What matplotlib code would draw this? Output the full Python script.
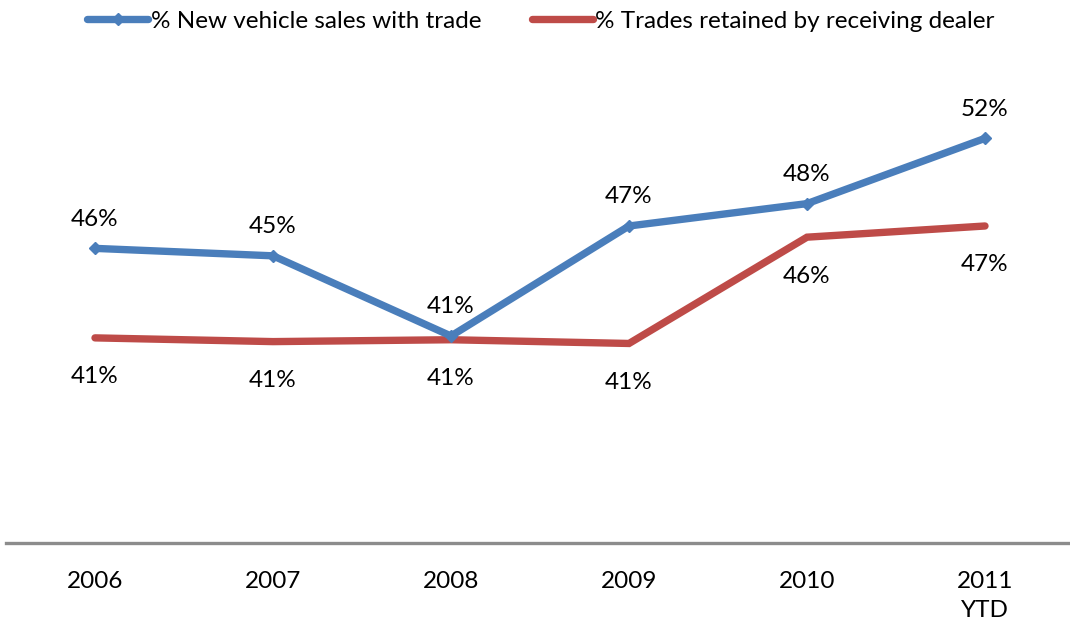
import matplotlib
matplotlib.use("Agg")
import matplotlib.pyplot as plt
from matplotlib.lines import Line2D

plt.rcParams['font.family'] = ['Lato', 'DejaVu Sans']

categories = ["2006", "2007", "2008", "2009", "2010", "2011\nYTD"]
sales_with_trade = [45.8, 45.4, 41.1, 47.0, 48.2, 51.7]
trades_retained = [41.0, 40.8, 40.9, 40.7, 46.4, 47.0]

blue = "#4A7EBB"
red = "#BE4B48"
fs = 17.5

fig = plt.figure(figsize=(10.70, 6.23), dpi=100)
ax = fig.add_axes([6 / 1070, 80 / 623, 1068 / 1070, 455 / 623])

x = list(range(len(categories)))
ax.plot(x, sales_with_trade, color=blue, lw=5.3, marker="D", ms=6,
        solid_joinstyle="miter", solid_capstyle="round", zorder=3)
ax.plot(x, trades_retained, color=red, lw=5.3,
        solid_joinstyle="miter", solid_capstyle="round", zorder=2)

for xi, v in zip(x, sales_with_trade):
    ax.annotate(f"{v:.0f}%", (xi, v), xytext=(0, 21), textcoords="offset points",
                ha="center", va="center", fontsize=fs, color="#000000")
for xi, v in zip(x, trades_retained):
    ax.annotate(f"{v:.0f}%", (xi, v), xytext=(0, -28), textcoords="offset points",
                ha="center", va="center", fontsize=fs, color="#000000")

ax.set_xlim(-0.5, 5.5)
ax.set_ylim(30, 54.4)
ax.set_xticks(x)
ax.set_xticklabels(categories, fontsize=fs, linespacing=1.5)
ax.tick_params(axis="x", length=0, pad=20)
ax.set_yticks([])
for side in ("left", "right", "top"):
    ax.spines[side].set_visible(False)
ax.spines["bottom"].set_color("#8C8C8C")
ax.spines["bottom"].set_linewidth(2.4)

handles = [
    Line2D([], [], color=blue, lw=5.3, marker="D", ms=6, solid_capstyle="round"),
    Line2D([], [], color=red, lw=5.3, solid_capstyle="round"),
]
labels = ["% New vehicle sales with trade", "% Trades retained by receiving dealer"]
fig.legend(handles, labels, loc="center", bbox_to_anchor=(541 / 1070, 1 - 21 / 623),
           ncol=2, frameon=False, fontsize=fs, handlelength=2.5,
           handletextpad=0.1, columnspacing=2.1, borderpad=0)

fig.savefig("out.png", dpi=100)
